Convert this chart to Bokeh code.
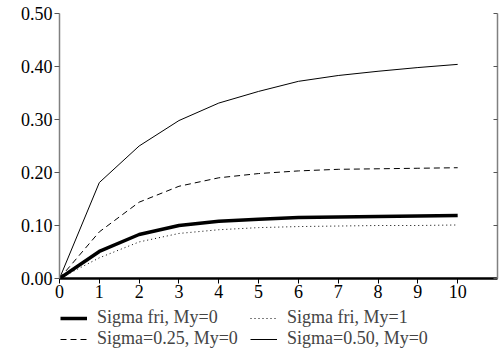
from bokeh.plotting import figure
from bokeh.models import Range1d, LinearAxis, Legend, LegendItem, FixedTicker, NumeralTickFormatter
from bokeh.layouts import column
from bokeh.embed import file_html
from bokeh.resources import INLINE

x = [0, 1, 2, 3, 4, 5, 6, 7, 8, 9, 10]
sigma_fri_my0 = [0.0, 0.051, 0.083, 0.100, 0.108, 0.112, 0.115, 0.116, 0.117, 0.118, 0.119]
sigma_fri_my1 = [0.0, 0.039, 0.069, 0.085, 0.092, 0.096, 0.098, 0.099, 0.100, 0.100, 0.101]
sigma_025_my0 = [0.0, 0.088, 0.144, 0.174, 0.190, 0.198, 0.203, 0.206, 0.207, 0.208, 0.209]
sigma_050_my0 = [0.0, 0.181, 0.250, 0.298, 0.331, 0.353, 0.372, 0.383, 0.391, 0.398, 0.404]
labels = ["Sigma fri, My=0", "Sigma fri, My=1", "Sigma=0.25, My=0", "Sigma=0.50, My=0"]
y_ticks = [0.0, 0.1, 0.2, 0.3, 0.4, 0.5]
x_ticks = list(range(0, 11))

FONT = "'Liberation Serif'"
FSIZE = "18px"

styles = [
    dict(line_color="black", line_width=3.5),
    dict(line_color="black", line_width=1, line_dash="1 3"),
    dict(line_color="black", line_width=1, line_dash="6 4"),
    dict(line_color="black", line_width=1),
]
series = [sigma_fri_my0, sigma_fri_my1, sigma_025_my0, sigma_050_my0]

p = figure(width=500, height=307, output_backend="svg", toolbar_location=None,
           x_range=Range1d(0, 11), y_range=Range1d(0, 0.5),
           min_border_left=59, min_border_right=3, min_border_top=13, min_border_bottom=29)
p.outline_line_color = None
p.grid.visible = False

# left axis
ya = p.yaxis[0]
ya.ticker = FixedTicker(ticks=y_ticks)
ya.formatter = NumeralTickFormatter(format="0.00")
ya.axis_line_color = "#808080"
ya.axis_line_width = 1.5
ya.major_tick_line_color = "#555555"
ya.major_tick_out = 5
ya.major_tick_in = 0
ya.minor_tick_line_color = None
ya.major_label_text_font = FONT
ya.major_label_text_font_size = FSIZE
ya.major_label_text_color = "black"
ya.major_label_standoff = 2
ya.level = "overlay"

# bottom axis
xa = p.xaxis[0]
xa.ticker = FixedTicker(ticks=x_ticks)
xa.axis_line_color = "black"
xa.axis_line_width = 2.5
xa.major_tick_line_color = "black"
xa.major_tick_out = 5
xa.major_tick_in = 0
xa.minor_tick_line_color = None
xa.major_label_text_font = FONT
xa.major_label_text_font_size = FSIZE
xa.major_label_text_color = "black"
xa.major_label_standoff = 1
xa.level = "overlay"

# right axis (no labels, inward ticks)
ra = LinearAxis(ticker=FixedTicker(ticks=y_ticks),
                major_label_overrides={t: "" for t in y_ticks})
ra.axis_line_color = "#808080"
ra.axis_line_width = 1.5
ra.major_tick_line_color = "#555555"
ra.major_tick_out = 0
ra.major_tick_in = 4
ra.minor_tick_line_color = None
ra.major_label_standoff = 0
ra.level = "overlay"
p.add_layout(ra, "right")

for ys, st in zip(series, styles):
    p.line(x, ys, **st)

# legend strip below the chart (its renderers lie outside its visible range)
q = figure(width=500, height=42, output_backend="svg", toolbar_location=None,
           x_range=Range1d(100, 101), y_range=Range1d(100, 101),
           min_border=0, x_axis_type=None, y_axis_type=None)
q.outline_line_color = None
q.grid.visible = False
dummies = [q.line(x, ys, **st) for ys, st in zip(series, styles)]

def make_legend(items, loc):
    lg = Legend(items=items, location=loc, orientation="vertical")
    lg.label_text_font = FONT
    lg.label_text_font_size = FSIZE
    lg.label_height = 16
    lg.glyph_width = 27
    lg.glyph_height = 16
    lg.label_standoff = 10
    lg.spacing = 0
    lg.padding = 0
    lg.margin = 0
    lg.border_line_color = None
    lg.background_fill_alpha = 0
    lg.level = "overlay"
    return lg

lg1 = make_legend([LegendItem(label=labels[0], renderers=[dummies[0]]),
                   LegendItem(label=labels[2], renderers=[dummies[2]])], (1, 0))
lg2 = make_legend([LegendItem(label=labels[1], renderers=[dummies[1]]),
                   LegendItem(label=labels[3], renderers=[dummies[3]])], (191, 0))
q.add_layout(lg1, "center")
q.add_layout(lg2, "center")

layout = column(p, q, spacing=0)
open("out.html", "w").write(file_html(layout, INLINE))
